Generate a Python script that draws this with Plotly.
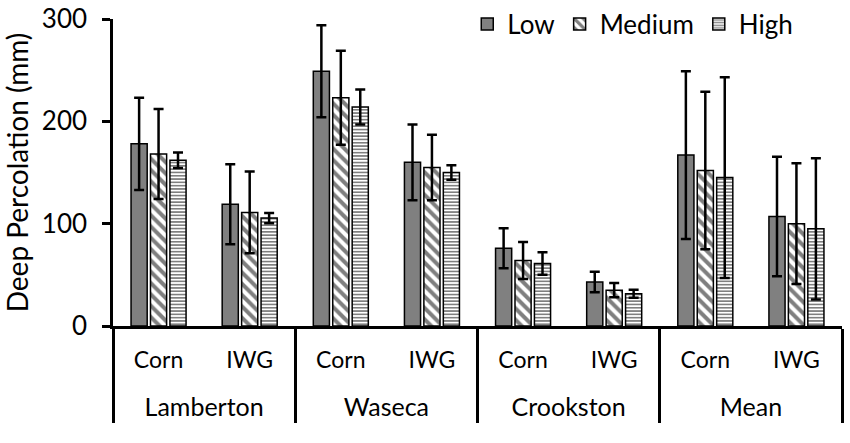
import plotly.graph_objects as go

sites = ["Lamberton", "Lamberton", "Waseca", "Waseca", "Crookston", "Crookston", "Mean", "Mean"]
crops = ["Corn", "IWG", "Corn", "IWG", "Corn", "IWG", "Corn", "IWG"]

low = [178, 119, 249, 160, 76, 43, 167, 107]
low_err = [45, 39, 45, 37, 19.5, 10, 82, 58.5]
medium = [168, 111, 223, 155, 64, 35, 152, 100]
medium_err = [44, 40, 46, 32, 18, 7, 77, 59]
high = [162, 105.5, 214, 150, 61, 31.5, 145, 95]
high_err = [7.5, 5, 17, 7, 11, 4, 98, 69]

FONT = "Lato"
crop_labels = [c + "<br>\u00a0" for c in crops]
site_labels = ['<span style="font-size:25px">' + s + "</span>" for s in sites]
x = [site_labels, crop_labels]

def err(vals):
    return dict(type="data", array=vals, color="black", thickness=2.5, width=5, visible=True)

fig = go.Figure()
fig.add_trace(go.Bar(name="Low", x=x, y=low, error_y=err(low_err),
                     marker=dict(color="#808080", line=dict(color="black", width=1.5))))
fig.add_trace(go.Bar(name="Medium", x=x, y=medium, error_y=err(medium_err),
                     marker=dict(color="white", line=dict(color="black", width=1.5),
                                 pattern=dict(shape="\\", fgcolor="black", bgcolor="white",
                                              size=8, solidity=0.5, fillmode="overlay"))))
fig.add_trace(go.Bar(name="High", x=x, y=high, error_y=err(high_err),
                     marker=dict(color="white", line=dict(color="black", width=1.5),
                                 pattern=dict(shape="-", fgcolor="black", bgcolor="white",
                                              size=3.3, solidity=0.5, fillmode="overlay"))))

fig.update_layout(
    width=850, height=443,
    margin=dict(l=113, r=8, t=19, b=117, autoexpand=False),
    paper_bgcolor="white", plot_bgcolor="white",
    barmode="group", bargap=0.36, bargroupgap=0.17,
    font=dict(family=FONT, color="black", size=22),
    showlegend=True,
    legend=dict(orientation="h", x=0.94, xanchor="right", y=1.06, yanchor="top",
                font=dict(size=26, family=FONT), bgcolor="rgba(0,0,0,0)",
                itemwidth=30, tracegroupgap=0),
)
fig.update_yaxes(range=[0, 300], tickvals=[0, 100, 200, 300], showgrid=False, zeroline=False,
                 showline=True, linecolor="black", linewidth=2.5, ticks="outside",
                 ticklen=8, tickwidth=2.5, tickcolor="black", ticklabelstandoff=10,
                 tickfont=dict(size=26, family=FONT),
                 title=dict(text="Deep Percolation (mm)", font=dict(size=28, family=FONT), standoff=10))
fig.update_xaxes(type="multicategory", showline=True, linecolor="black", linewidth=2.5,
                 ticks="", showdividers=True, dividercolor="black", dividerwidth=2.5,
                 tickfont=dict(size=23, family=FONT), showgrid=False, ticklabelstandoff=12)

fig.write_html("out.html", config={"displayModeBar": False},
               post_script="document.body.style.margin='0';document.body.style.overflow='hidden';")
